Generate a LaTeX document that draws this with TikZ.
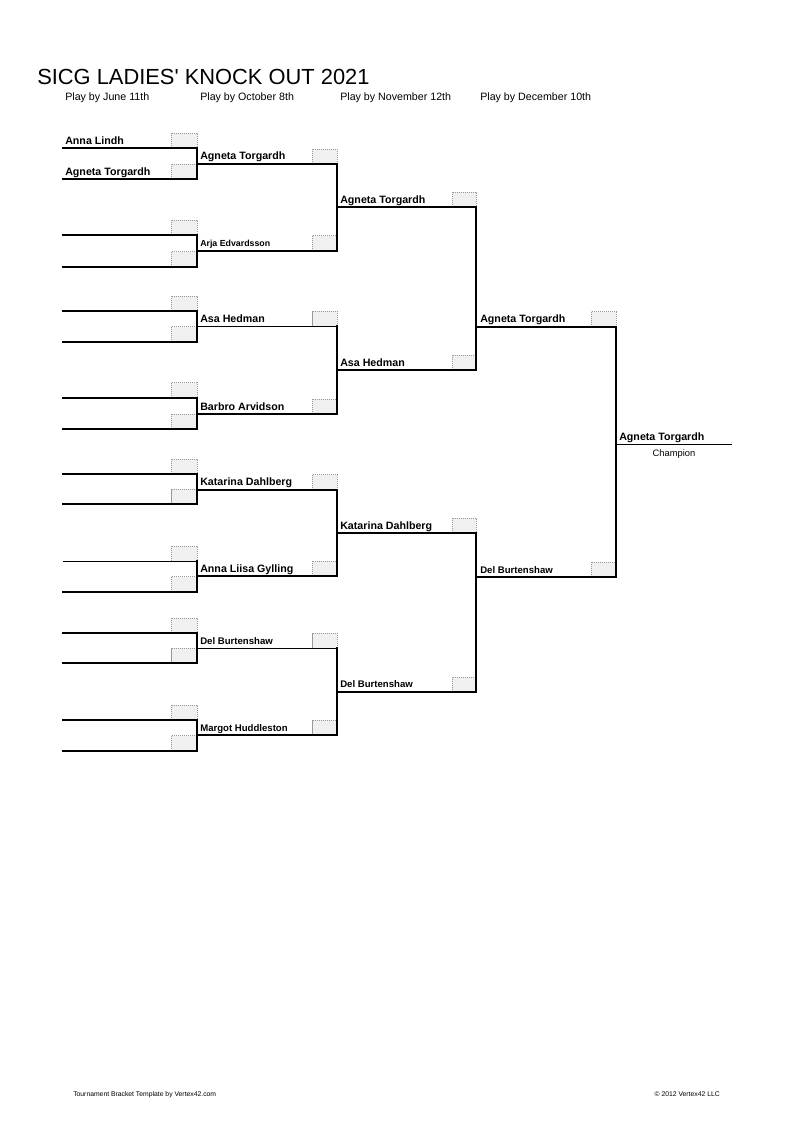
\documentclass[tikz,border=0pt]{standalone}
\usepackage{fontspec}
\setmainfont{Liberation Sans}
\begin{document}
\begin{tikzpicture}[x=0.75pt,y=-0.75pt,
  thk/.style={line width=1.5pt, line cap=rect},
  thn/.style={line width=0.75pt},
  scorebox/.style={draw=gray!80, dash pattern=on 0.9pt off 0.6pt, line width=0.4pt, fill=gray!12},
  txt/.style={anchor=base west, inner sep=0pt},
  nm/.style={txt, font=\fontsize{8}{9.6}\selectfont\bfseries},
  nmsmall/.style={txt, font=\fontsize{7.2}{8.6}\selectfont\bfseries},
  hdr/.style={txt, font=\fontsize{8}{9.6}\selectfont},
]
\useasboundingbox[fill=white] (0,0) rectangle (794,1123);

% ---------- coordinates ----------
\foreach \y [count=\i] in {148.3,179.3,235,266.7,311,341.7,397.7,429,474,504.3,561,591.7,633,663.3,720,750.7}{
  \coordinate (a\i) at (63,\y);
  \coordinate (b\i) at (197,\y);
}
\foreach \y [count=\i] in {164,250.7,326.3,414,489.7,576,648.3,735.3}{
  \coordinate (c\i) at (197,\y);
  \coordinate (d\i) at (337,\y);
}
\foreach \y [count=\i] in {207.3,370,533,691.8}{
  \coordinate (e\i) at (337,\y);
  \coordinate (f\i) at (476,\y);
}
\foreach \y [count=\i] in {326.7,577}{
  \coordinate (g\i) at (476,\y);
  \coordinate (h\i) at (616,\y);
}
\coordinate (k1) at (616,444);
\coordinate (m1) at (732,444);

% ---------- score boxes ----------
\foreach \i in {1,...,16}{
  \draw[scorebox] ([xshift=-19.5pt,yshift=11.25pt]b\i) rectangle (b\i);
}
\foreach \i in {1,...,8}{
  \draw[scorebox] ([xshift=-18.75pt,yshift=11.25pt]d\i) rectangle (d\i);
}
\foreach \i in {1,...,4}{
  \draw[scorebox] ([xshift=-18pt,yshift=11.25pt]f\i) rectangle (f\i);
}
\foreach \i in {1,2}{
  \draw[scorebox] ([xshift=-18.75pt,yshift=11.25pt]h\i) rectangle (h\i);
}

% ---------- bracket lines ----------
\foreach \i/\w in {1/thk,2/thk,3/thk,4/thk,5/thk,6/thk,7/thk,8/thk,9/thk,10/thk,11/thn,12/thk,13/thk,14/thk,15/thk,16/thk}{
  \draw[\w] (a\i) -- (b\i);
}
\foreach \i/\j in {1/2,3/4,5/6,7/8,9/10,11/12,13/14,15/16}{
  \draw[thk] (b\i) -- (b\j);
}
\foreach \i/\w in {1/thk,2/thk,3/thn,4/thk,5/thk,6/thk,7/thn,8/thk}{
  \draw[\w] (c\i) -- (d\i);
}
\foreach \i/\j in {1/2,3/4,5/6,7/8}{
  \draw[thk] (d\i) -- (d\j);
}
\foreach \i in {1,...,4}{
  \draw[thk] (e\i) -- (f\i);
}
\draw[thk] (f1) -- (f2);
\draw[thk] (f3) -- (f4);
\draw[thk] (g1) -- (h1);
\draw[thk] (g2) -- (h2);
\draw[thk] (h1) -- (h2);
\draw[thn] (k1) -- (m1);

% ---------- title and headers ----------
\node[txt, font=\fontsize{16.4}{19}\selectfont] (title) at (37,85) {SICG LADIES\textquotesingle{} KNOCK OUT 2021};
\node[hdr] (h1t) at (65,101) {Play by June 11th};
\node[hdr] (h2t) at (200,101) {Play by October 8th};
\node[hdr] (h3t) at (340,101) {Play by November 12th};
\node[hdr] (h4t) at (480,101) {Play by December 10th};

% ---------- names ----------
\node[nm] (n1a) at ([xshift=1.5pt,yshift=3pt]a1) {Anna Lindh};
\node[nm] (n1b) at ([xshift=1.5pt,yshift=3pt]a2) {Agneta Torgardh};

\node[nm] (n2a) at ([xshift=2.25pt,yshift=3pt]c1) {Agneta Torgardh};
\node[txt, font=\fontsize{6.6}{8}\selectfont\bfseries] (n2b) at ([xshift=2.25pt,yshift=3pt]c2) {Arja Edvardsson};
\node[nm] (n2c) at ([xshift=2.25pt,yshift=3pt]c3) {Asa Hedman};
\node[nm] (n2d) at ([xshift=2.25pt,yshift=3pt]c4) {Barbro Arvidson};
\node[nm] (n2e) at ([xshift=2.25pt,yshift=3pt]c5) {Katarina Dahlberg};
\node[nm] (n2f) at ([xshift=2.25pt,yshift=3pt]c6) {Anna Liisa Gylling};
\node[nmsmall] (n2g) at ([xshift=2.25pt,yshift=3pt]c7) {Del Burtenshaw};
\node[nmsmall] (n2h) at ([xshift=2.25pt,yshift=3pt]c8) {Margot Huddleston};

\node[nm] (n3a) at ([xshift=2.25pt,yshift=3pt]e1) {Agneta Torgardh};
\node[nm] (n3b) at ([xshift=2.25pt,yshift=3pt]e2) {Asa Hedman};
\node[nm] (n3c) at ([xshift=2.25pt,yshift=3pt]e3) {Katarina Dahlberg};
\node[nmsmall] (n3d) at ([xshift=2.25pt,yshift=3pt]e4) {Del Burtenshaw};

\node[nm] (n4a) at ([xshift=3pt,yshift=3pt]g1) {Agneta Torgardh};
\node[nmsmall] (n4b) at ([xshift=3pt,yshift=3pt]g2) {Del Burtenshaw};

\node[nm] (n5) at ([xshift=2.25pt,yshift=3pt]k1) {Agneta Torgardh};
\node[anchor=base, inner sep=0pt, font=\fontsize{7}{8.4}\selectfont] (champ) at (674,456) {Champion};

% ---------- footer ----------
\node[txt, font=\fontsize{5.1}{6}\selectfont] (foot1) at (73,1096) {Tournament Bracket Template by Vertex42.com};
\node[anchor=base east, inner sep=0pt, font=\fontsize{5.1}{6}\selectfont] (foot2) at (720,1096) {© 2012 Vertex42 LLC};
\end{tikzpicture}
\end{document}
